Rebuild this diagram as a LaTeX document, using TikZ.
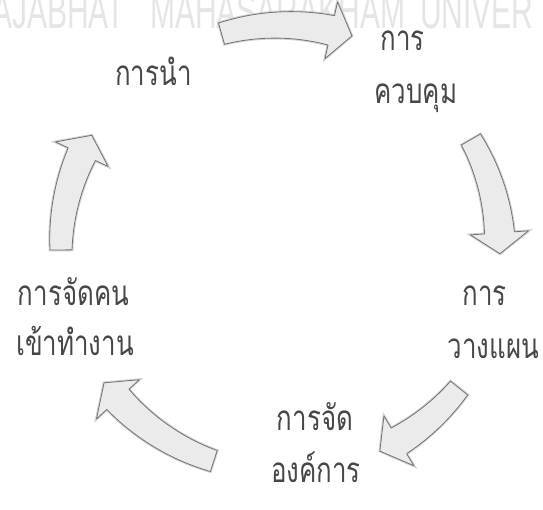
\documentclass[tikz,border=0pt]{standalone}
\usepackage{fontspec}
\newfontfamily\thaifont[Script=Thai, FakeStretch=0.74]{Loma}
\newfontfamily\wmfont[FakeStretch=0.6]{Liberation Sans}
\newcommand\cycarrow[3]{%
  \pgfmathsetmacro\cycH{#2-5.5}%
  \draw[cyc] plot[smooth, variable=\t, domain=#1:\cycH, samples=12] (\t:{#3+11+4*(\t-(#1))/(\cycH-(#1))})
    -- (\cycH:{#3+29}) -- (#2:#3) -- (\cycH:{#3-29})
    -- plot[smooth, variable=\t, domain=\cycH:#1, samples=12] (\t:{#3-11-4*(\t-(#1))/(\cycH-(#1))})
    -- cycle;}
\begin{document}
\begin{tikzpicture}[x=1pt,y=-1pt,
  thai/.style={font=\thaifont\fontsize{35}{40}\selectfont, text=black!72, inner sep=0pt, anchor=base},
  wm/.style={font=\wmfont\fontsize{50}{50}\selectfont, text=black!10, inner sep=0pt, anchor=base west},
  cyc/.style={fill=black!8, draw=black!55, line width=0.8pt, line join=round,
    preaction={draw=black!18, line width=2.8pt}}]
\useasboundingbox (0,0) rectangle (543,509);
\fill[white] (0,0) rectangle (543,509);
\begin{scope}
  \clip (0,0) rectangle (543,509);
  \node[wm] (wmA) at (-8,28) {AJABHAT};
  \node[wm] (wmB) at (150,28) {MAHASARAKHAM};
  \node[wm] (wmC) at (420,28) {UNIVER};
\end{scope}
\begin{scope}[shift={(283,248)}]
  \cycarrow{-106}{-72}{223}
  \cycarrow{-30}{1.5}{217}
  \cycarrow{38.5}{64.5}{225}
  \cycarrow{108}{143}{224}
  \cycarrow{179.5}{210.5}{222}
\end{scope}
\node[thai] (lead) at (153.5,85) {การนำ};
\node[thai] (ctrlA) at (402.5,50) {การ};
\node[thai] (ctrlB) at (416,103) {ควบคุม};
\node[thai] (planA) at (484.5,305) {การ};
\node[thai] (planB) at (493.5,358) {วางแผน};
\node[thai] (orgA) at (315,430) {การจัด};
\node[thai] (orgB) at (316,482) {องค์การ};
\node[thai] (staffA) at (73.5,305) {การจัดคน};
\node[thai] (staffB) at (75,355) {เข้าทำงาน};
\end{tikzpicture}
\end{document}
